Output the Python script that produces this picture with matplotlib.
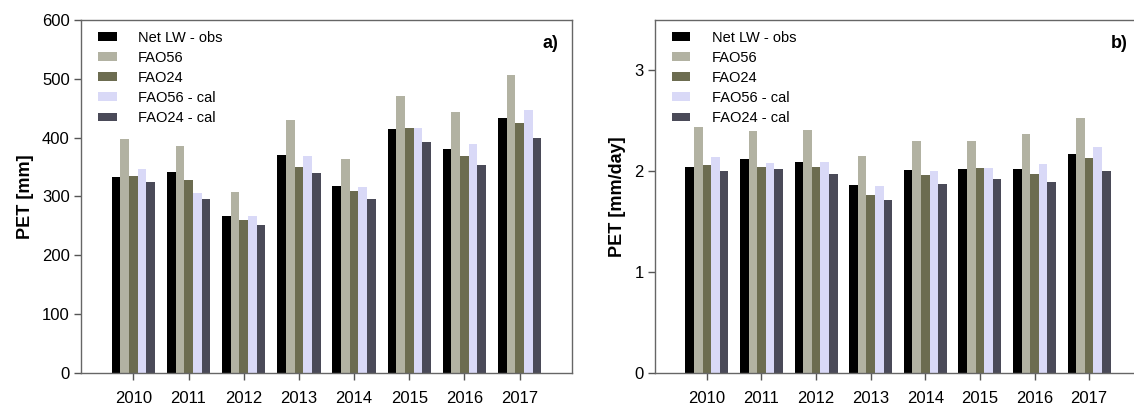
import numpy as np
import matplotlib
matplotlib.use('Agg')
import matplotlib.pyplot as plt
import matplotlib.transforms as mtransforms

plt.rcParams['font.family'] = ['Liberation Sans', 'DejaVu Sans']

years = ['2010', '2011', '2012', '2013', '2014', '2015', '2016', '2017']
series = ['Net LW - obs', 'FAO56', 'FAO24', 'FAO56 - cal', 'FAO24 - cal']
colores = ['#000000', '#b2b2a2', '#6c6c50', '#d9d9f7', '#4a4a58']

# PET anual [mm]
obs_mm = [333, 341, 267, 371, 317, 414, 380, 433]
fao56_mm = [397, 385, 308, 429, 363, 471, 444, 507]
fao24_mm = [335, 328, 260, 350, 309, 416, 369, 425]
fao56cal_mm = [347, 305, 267, 369, 316, 416, 389, 447]
fao24cal_mm = [325, 295, 252, 340, 295, 393, 354, 400]

# PET diaria media [mm/day]
obs_d = [2.04, 2.12, 2.09, 1.86, 2.01, 2.025, 2.025, 2.17]
fao56_d = [2.44, 2.40, 2.41, 2.155, 2.30, 2.30, 2.365, 2.53]
fao24_d = [2.065, 2.04, 2.04, 1.76, 1.96, 2.03, 1.97, 2.13]
fao56cal_d = [2.14, 2.085, 2.095, 1.85, 2.005, 2.03, 2.075, 2.235]
fao24cal_d = [2.0, 2.02, 1.975, 1.71, 1.875, 1.92, 1.89, 2.005]


def panel(ax, datos, ylim, yticks, ylabel, letra):
    x = np.arange(len(years))
    w = 0.157
    for i, (vals, c, lab) in enumerate(zip(datos, colores, series)):
        ax.bar(x + (i - 2) * w, vals, width=w, color=c, label=lab, linewidth=0)
    ax.set_xlim(-0.95, 7.95)
    ax.set_ylim(*ylim)
    ax.set_yticks(yticks)
    ax.set_xticks(x)
    ax.set_xticklabels(years)
    ax.tick_params(direction='out', length=5, width=1, color='#555555', labelsize=12, pad=8)
    ax.tick_params(axis='y', pad=3)
    for s in ax.spines.values():
        s.set_color('#666666')
        s.set_linewidth(1)
    ax.set_ylabel(ylabel, fontsize=13, fontweight='bold', labelpad=6)
    trans = mtransforms.blended_transform_factory(ax.transData, ax.transAxes)
    ax.text(7.56, 0.932, letra, transform=trans, fontsize=13, fontweight='bold',
            ha='center', va='center')
    ax.legend(loc='upper left', frameon=False, fontsize=10.5, handlelength=1.3,
              handleheight=0.55, handletextpad=1.45, labelspacing=0.42,
              borderaxespad=0, bbox_to_anchor=(0.022, 0.986))


fig = plt.figure(figsize=(11.34, 4.05), dpi=100)
ax1 = fig.add_axes([0.0714, 0.079, 0.433, 0.872])
ax2 = fig.add_axes([0.5776, 0.079, 0.4286, 0.872])

panel(ax1, [obs_mm, fao56_mm, fao24_mm, fao56cal_mm, fao24cal_mm],
      (0, 600), [0, 100, 200, 300, 400, 500, 600], 'PET [mm]', 'a)')
panel(ax2, [obs_d, fao56_d, fao24_d, fao56cal_d, fao24cal_d],
      (0, 3.5), [0, 1, 2, 3], 'PET [mm/day]', 'b)')

plt.savefig('out.png', dpi=100)
